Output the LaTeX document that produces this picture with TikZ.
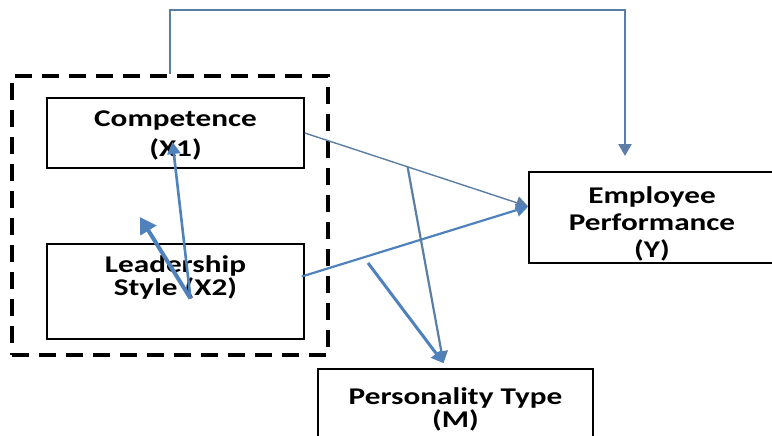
\documentclass[tikz,border=0pt]{standalone}
\usepackage{fontspec}
\usepackage{graphicx}
\newfontfamily\boxfont{Carlito}
\newcommand\stretchtxt[1]{\scalebox{1.3}[1]{#1}}
\usetikzlibrary{arrows.meta,calc}
\definecolor{linkblue}{RGB}{79,129,189}
\definecolor{linkgrey}{RGB}{92,126,165}
\begin{document}
\begin{tikzpicture}[x=1pt,y=-1pt,line width=1.5pt,>={Triangle[length=12pt,width=13pt]},
  line join=miter,font=\boxfont\bfseries\fontsize{24}{28}\selectfont,
  varbox/.style={draw=black,line width=1.6pt,align=center,inner sep=0pt},
  grpbox/.style={draw=black,line width=4pt,dash pattern=on 17pt off 10pt,inner sep=0pt},
  thinlink/.style={draw=linkgrey,line width=1.4pt},
  boldlink/.style={draw=linkblue,line width=2.6pt}]
  \useasboundingbox (0,0) rectangle (772,436);
  % group frame round the two predictors
  \node[grpbox,minimum width=316pt,minimum height=279pt] (grp) at (170,215.5) {};
  \node[varbox,minimum width=257pt,minimum height=70pt,text height=54pt,text depth=6pt,
    font=\boxfont\bfseries\fontsize{24}{30}\selectfont] (comp) at (175.5,133)
    {\stretchtxt{Competence}\\\stretchtxt{(X1)}};
  \node[varbox,minimum width=257pt,minimum height=95pt,text height=45pt,text depth=38pt,
    font=\boxfont\bfseries\fontsize{24}{23}\selectfont] (lead) at (175.5,291.5)
    {\stretchtxt{Leadership}\\\stretchtxt{Style (X2)}};
  \node[varbox,minimum width=246pt,minimum height=89pt,text height=85pt,text depth=6pt,
    font=\boxfont\bfseries\fontsize{24}{27}\selectfont] (perf) at (652,217.5)
    {\stretchtxt{Employee}\\\stretchtxt{Performance}\\\stretchtxt{(Y)}};
  \node[varbox,minimum width=275pt,minimum height=74pt,text height=48pt,text depth=6pt,
    font=\boxfont\bfseries\fontsize{24}{23}\selectfont] (pers) at (455.5,406)
    {\stretchtxt{Personality Type}\\\stretchtxt{(M)}};
  % end points of the arrows
  \coordinate (topend) at (625,156);
  \coordinate (perfin) at ($(perf.west)+(0,-11)$);
  \coordinate (persin) at ($(pers.north)+(-12,-5)$);
  \coordinate (leadout) at ($(lead.east)+(-3,-15)$);
  \coordinate (leadin) at ($(lead.center)+(15,7)$);
  \coordinate (compin) at ($(comp.center)+(-3,9)$);
  \coordinate (upend) at (140,217);
  \coordinate (modout) at (368,263);
  % connectors
  \draw[thinlink,line width=2.2pt,->] (grp.north) -- (170,10) -| (topend);
  \draw[thinlink,->] (comp.east) -- coordinate[pos=.46] (mid) (perfin);
  \draw[boldlink,line width=2.2pt,->] (leadout) -- (perfin);
  \draw[thinlink,line width=2.2pt,->] (mid) -- (persin);
  \draw[boldlink,line width=3pt,->] (modout) -- (persin);
  \draw[boldlink,line width=2.6pt,->] (leadin) -- (compin);
  \draw[boldlink,line width=4pt,>={Triangle[length=16pt,width=18pt]},->] (leadin) -- (upend);
\end{tikzpicture}
\end{document}
